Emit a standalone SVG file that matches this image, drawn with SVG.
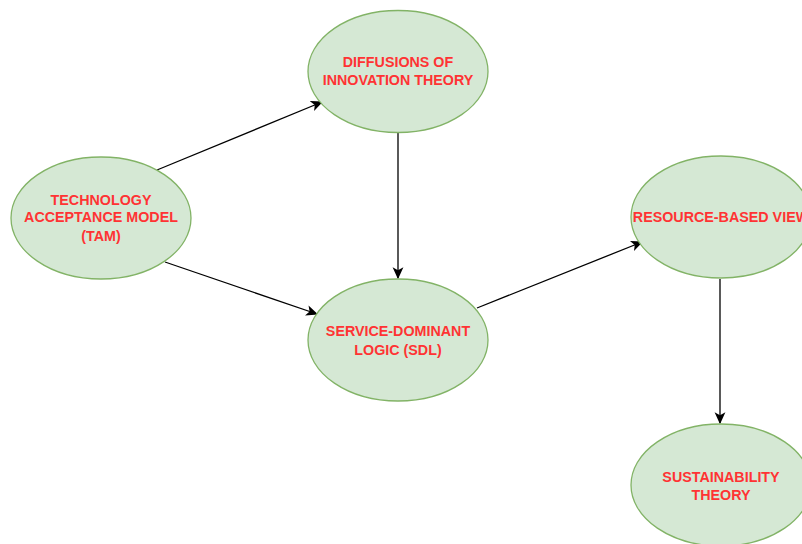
<svg xmlns="http://www.w3.org/2000/svg" width="802" height="544" viewBox="0 0 802 544">
<defs>
<marker id="arr" viewBox="0 0 10 10" refX="9" refY="5" markerWidth="12" markerHeight="12" markerUnits="userSpaceOnUse" orient="auto">
<path d="M0,0.5 L10,5 L0,9.5 L2.5,5 Z" fill="#000"/>
</marker>
</defs>
<style>
.n ellipse{fill:#d5e8d4;stroke:#82b366;stroke-width:1.3}
.n text{font-family:"Liberation Sans",Arial,sans-serif;font-weight:bold;font-size:14.3px;fill:#ff3333;text-anchor:middle}
.c line{stroke:#000;stroke-width:1.3;marker-end:url(#arr)}
</style>
<rect width="802" height="544" fill="#fff"/>
<g id="connectors" class="c">
<line x1="157" y1="170" x2="322" y2="102"/>
<line x1="165" y1="262" x2="317" y2="314"/>
<line x1="398" y1="133" x2="398" y2="278"/>
<line x1="477" y1="308" x2="642" y2="242"/>
<line x1="720" y1="279" x2="720" y2="423"/>
</g>
<g id="tam" class="n">
<ellipse cx="101" cy="218" rx="90" ry="61"/>
<text x="101" y="205">TECHNOLOGY</text>
<text x="101" y="222">ACCEPTANCE MODEL</text>
<text x="101" y="241">(TAM)</text>
</g>
<g id="diffusions" class="n">
<ellipse cx="398" cy="71.5" rx="90" ry="61"/>
<text x="398" y="67">DIFFUSIONS OF</text>
<text x="398" y="85">INNOVATION THEORY</text>
</g>
<g id="sdl" class="n">
<ellipse cx="398" cy="340" rx="90" ry="61"/>
<text x="398" y="336">SERVICE-DOMINANT</text>
<text x="398" y="355">LOGIC (SDL)</text>
</g>
<g id="rbv" class="n">
<ellipse cx="721" cy="217" rx="90" ry="61"/>
<text x="721" y="222">RESOURCE-BASED VIEW</text>
</g>
<g id="sustainability" class="n">
<ellipse cx="721" cy="485" rx="90" ry="61"/>
<text x="721" y="482">SUSTAINABILITY</text>
<text x="721" y="500">THEORY</text>
</g>
</svg>
